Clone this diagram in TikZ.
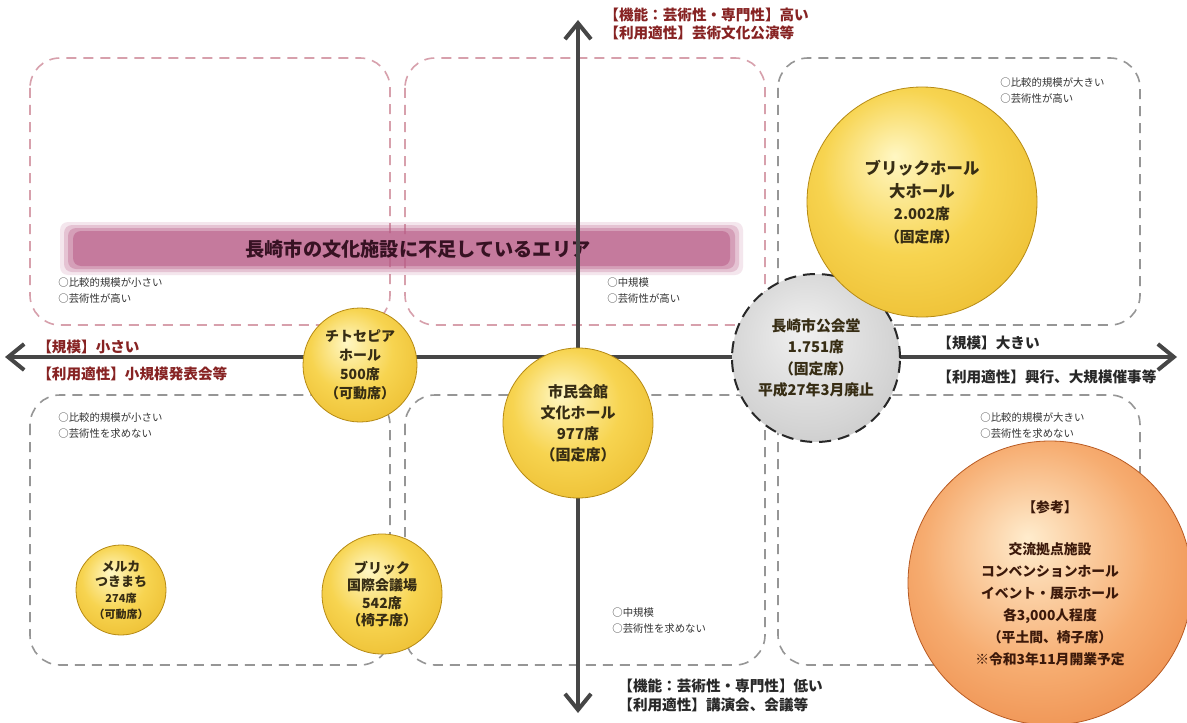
\documentclass[tikz,border=0pt]{standalone}
\usepackage{fontspec}
\setmainfont{Noto Sans CJK JP}
\usetikzlibrary{arrows.meta}
\definecolor{axred}{RGB}{135,35,35}
\definecolor{axblk}{RGB}{40,40,40}
\definecolor{pinkbox}{RGB}{215,160,172}
\definecolor{graybox}{RGB}{150,150,150}
\definecolor{axisgray}{RGB}{70,70,70}
\definecolor{banner}{RGB}{185,92,135}
\definecolor{gA}{RGB}{255,247,195}
\definecolor{gB}{RGB}{247,212,80}
\definecolor{gC}{RGB}{228,172,25}
\definecolor{oA}{RGB}{255,236,205}
\definecolor{oB}{RGB}{246,172,112}
\definecolor{oC}{RGB}{230,112,42}
\definecolor{sA}{RGB}{240,240,240}
\definecolor{sB}{RGB}{212,212,212}
\definecolor{sC}{RGB}{180,180,180}
\definecolor{ctext}{RGB}{55,45,20}
\pgfdeclareradialshading{goldball}{\pgfpoint{-6bp}{10bp}}{color(0bp)=(gA); color(18bp)=(gB); color(46bp)=(gC); color(50bp)=(gC)}
\pgfdeclareradialshading{orangeball}{\pgfpoint{-4bp}{8bp}}{color(0bp)=(oA); color(20bp)=(oB); color(46bp)=(oC); color(50bp)=(oC)}
\pgfdeclareradialshading{grayball}{\pgfpoint{-4bp}{8bp}}{color(0bp)=(sA); color(25bp)=(sB); color(48bp)=(sC); color(50bp)=(sC)}
\begin{document}
\begin{tikzpicture}[x=0.5pt,y=-0.5pt,
  areabox/.style={draw=graybox,line width=0.8pt,dash pattern=on 5pt off 3.5pt,rounded corners=15pt},
  pinkarea/.style={areabox,draw=pinkbox},
  axisline/.style={draw=axisgray,line width=2pt,{Straight Barb[length=8pt,width=13pt,line width=2pt]}-{Straight Barb[length=8pt,width=13pt,line width=2pt]}},
  axlab/.style={anchor=west,inner sep=0pt,font=\bfseries\fontsize{7.3}{9}\selectfont},
  note/.style={anchor=west,inner sep=0pt,align=left,text=black!80,font=\fontsize{5.2}{8}\selectfont},
  hall/.style={circle,inner sep=0pt,align=center,text=ctext,font=\bfseries\fontsize{7.2}{10}\selectfont},
  gold/.style={hall,shading=goldball,draw=gC!80!black,line width=0.4pt},
  bandlayer/.style={fill=banner,rounded corners=4pt},
]
\useasboundingbox[fill=white] (0,0) rectangle (1187,722);

% area boxes
\draw[pinkarea] (30,58) rectangle (390,325);
\draw[pinkarea] (405,58) rectangle (765,325);
\draw[areabox] (778,58) rectangle (1140,325);
\draw[areabox] (30,395) rectangle (390,665);
\draw[areabox] (405,395) rectangle (765,665);
\draw[areabox] (778,395) rectangle (1140,665);

% banner (soft edged band)
\fill[bandlayer,opacity=0.15] (60,222) rectangle (743,275);
\fill[bandlayer,opacity=0.25] (64,225) rectangle (739,272);
\fill[bandlayer,opacity=0.35] (68,228) rectangle (735,269);
\fill[bandlayer,opacity=0.55] (73,231) rectangle (730,266);
\node[font=\bfseries\fontsize{9.6}{11}\selectfont,text={rgb,255:red,55;green,18;blue,35}] (banner) at (418,249) {長崎市の文化施設に不足しているエリア};

% notes
\node[note] (n1) at (1000,91) {○比較的規模が大きい\\○芸術性が高い};
\node[note] (n2) at (58,291) {○比較的規模が小さい\\○芸術性が高い};
\node[note] (n3) at (607,291) {○中規模\\○芸術性が高い};
\node[note] (n4) at (58,426) {○比較的規模が小さい\\○芸術性を求めない};
\node[note] (n5) at (980,426) {○比較的規模が大きい\\○芸術性を求めない};
\node[note] (n6) at (612,621) {○中規模\\○芸術性を求めない};

% axes
\coordinate (L) at (5,357);
\coordinate (R) at (1177,357);
\coordinate (T) at (578,20);
\coordinate (B) at (578,713);
\draw[axisline] (L) -- (R);
\draw[axisline] (B) -- (T);

% axis labels
\node[axlab,text=axred] (t1) at (604,15) {【機能：芸術性・専門性】高い};
\node[axlab,text=axred] (t2) at (604,33) {【利用適性】芸術文化公演等};
\node[axlab,text=axred] (l1) at (37,347) {【規模】小さい};
\node[axlab,text=axred] (l2) at (37,374) {【利用適性】小規模発表会等};
\node[axlab,text=axblk] (r1) at (937,343) {【規模】大きい};
\node[axlab,text=axblk] (r2) at (937,377) {【利用適性】興行、大規模催事等};
\node[axlab,text=axblk] (b1) at (618,686) {【機能：芸術性・専門性】低い};
\node[axlab,text=axblk] (b2) at (618,705) {【利用適性】講演会、会議等};

% halls
\node[hall,shading=grayball,draw=axblk,line width=1pt,dash pattern=on 6pt off 3.5pt,minimum size=84pt,font=\bfseries\fontsize{7.4}{10.6}\selectfont] (kokaido) at (816,358) {長崎市公会堂\\1.751席\\（固定席）\\平成27年3月廃止};
\node[gold,minimum size=115pt,font=\bfseries\fontsize{8.2}{11.2}\selectfont] (brick) at (922,202) {ブリックホール\\大ホール\\{\fontsize{7.4}{11.2}\selectfont 2.002席}\\{\fontsize{7.4}{11.2}\selectfont （固定席）}};
\node[gold,minimum size=57pt,font=\bfseries\fontsize{7}{9.6}\selectfont] (chitose) at (360,365) {チトセピア\\ホール\\500席\\（可動席）};
\node[gold,minimum size=75pt,font=\bfseries\fontsize{7.5}{10.5}\selectfont] (shimin) at (578,423) {市民会館\\文化ホール\\977席\\（固定席）};
\node[gold,minimum size=45pt,font=\bfseries\fontsize{6.5}{7.8}\selectfont] (meruka) at (121,590) {メルカ\\つきまち\\{\fontsize{5.5}{7.8}\selectfont 274席}\\{\fontsize{5.5}{7.8}\selectfont （可動席）}};
\node[gold,minimum size=60pt,font=\bfseries\fontsize{7}{8.8}\selectfont] (kokusai) at (382,594) {ブリック\\国際会議場\\542席\\（椅子席）};
\node[hall,shading=orangeball,draw=oC!80!black,line width=0.4pt,minimum size=142pt,text={rgb,255:red,60;green,25;blue,10},font=\bfseries\fontsize{6.9}{11}\selectfont] (sanko) at (1050,583) {【参考】\\[10pt]交流拠点施設\\コンベンションホール\\イベント・展示ホール\\各3,000人程度\\（平土間、椅子席）\\※令和3年11月開業予定};
\end{tikzpicture}
\end{document}
